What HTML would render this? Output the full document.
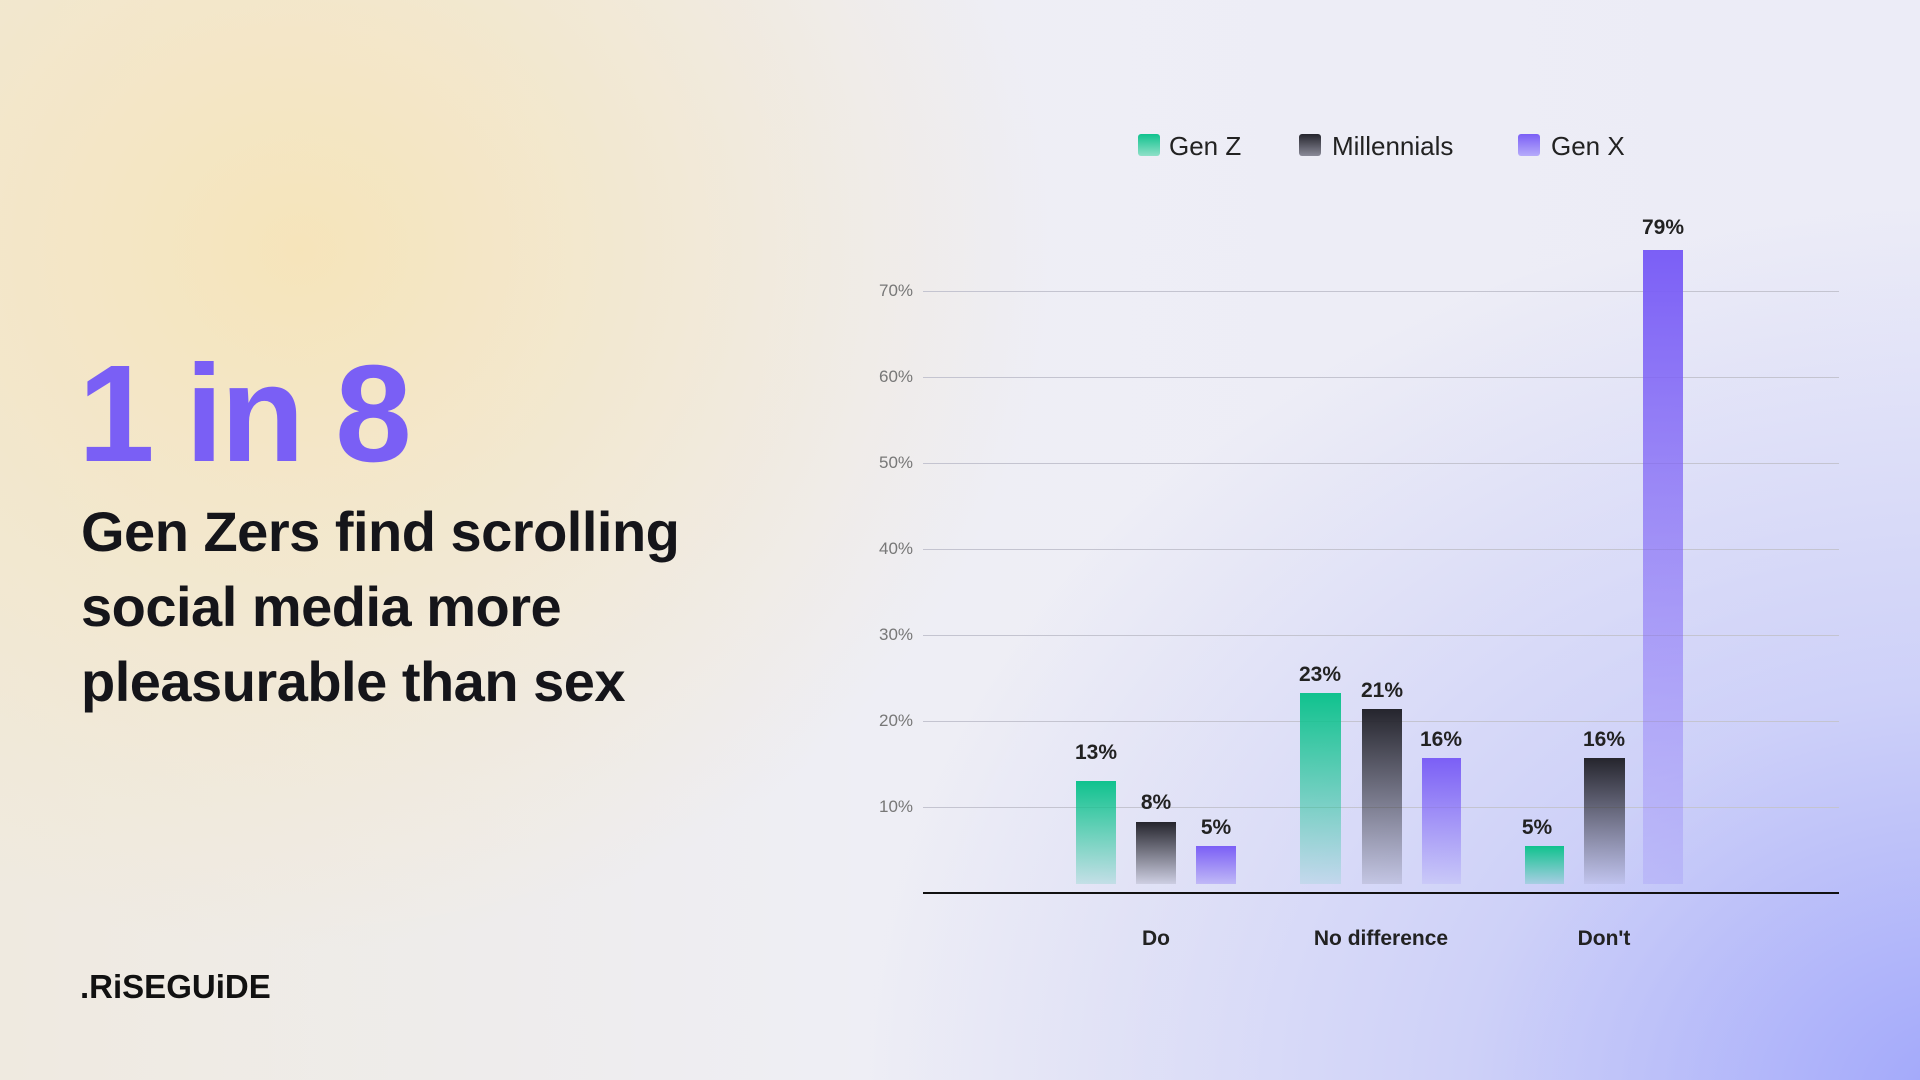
<!DOCTYPE html>
<html><head><meta charset="utf-8"><style>
html,body{margin:0;padding:0}
body{width:1920px;height:1080px;position:relative;overflow:hidden;font-family:"Liberation Sans",sans-serif;
background:
radial-gradient(ellipse 750px 700px at 300px 250px, rgba(246,228,184,0.95), rgba(246,228,184,0) 100%),
radial-gradient(ellipse 1100px 900px at 1960px 1100px, rgba(160,166,250,1), rgba(185,190,250,0.6) 45%, rgba(220,222,245,0) 100%),
linear-gradient(90deg,#efeae0 0%,#eeeef5 45%,#ececf7 100%);}
.a{position:absolute}
.big{left:78px;top:345px;font-size:138px;font-weight:bold;color:#7a5ff5;letter-spacing:-3px;line-height:1;word-spacing:-2px}
.head{left:81px;top:494px;font-size:56px;font-weight:bold;color:#15151a;line-height:75px;letter-spacing:-0.5px}
.logo{left:80px;top:968px;font-size:33px;font-weight:900;color:#111}
.tick{font-size:17px;color:#777;left:879px}
.grid{left:923px;width:916px;height:1px;background:#c4c4d0}
.bar{position:absolute;bottom:196px}
.val{position:absolute;font-size:21px;font-weight:bold;color:#222;width:80px;text-align:center}
.cat{position:absolute;top:927px;font-size:21px;font-weight:bold;color:#222;width:240px;text-align:center}
.leg{position:absolute;top:131px;font-size:26px;color:#222}
.sq{position:absolute;top:134px;width:22px;height:22px;border-radius:3px}
</style></head><body>
<div class="a big">1 in 8</div>
<div class="a head">Gen Zers find scrolling<br>social media more<br>pleasurable than sex</div>
<div class="a logo">.RiSEGUiDE</div>

<div class="sq" style="left:1138px;background:linear-gradient(#10c28e,#8fe0c8)"></div>
<div class="leg" style="left:1169px">Gen Z</div>
<div class="sq" style="left:1299px;background:linear-gradient(#25252d,#8a8a98)"></div>
<div class="leg" style="left:1332px">Millennials</div>
<div class="sq" style="left:1518px;background:linear-gradient(#7b5ff6,#b6abfa)"></div>
<div class="leg" style="left:1551px">Gen X</div>

<div class="a tick" style="top:281px">70%</div>
<div class="a tick" style="top:367px">60%</div>
<div class="a tick" style="top:453px">50%</div>
<div class="a tick" style="top:539px">40%</div>
<div class="a tick" style="top:625px">30%</div>
<div class="a tick" style="top:711px">20%</div>
<div class="a tick" style="top:797px">10%</div>
<div class="a grid" style="top:291px"></div>
<div class="a grid" style="top:377px"></div>
<div class="a grid" style="top:463px"></div>
<div class="a grid" style="top:549px"></div>
<div class="a grid" style="top:635px"></div>
<div class="a grid" style="top:721px"></div>
<div class="a grid" style="top:807px"></div>
<div class="a" style="left:923px;top:892px;width:916px;height:2px;background:#111"></div>

<div class="bar" style="left:1076px;width:40px;top:781px;bottom:196px;background:linear-gradient(#10c28e,rgba(16,194,142,0.15))"></div>
<div class="bar" style="left:1136px;width:40px;top:822px;bottom:196px;background:linear-gradient(#25252d,rgba(37,37,45,0.1))"></div>
<div class="bar" style="left:1196px;width:40px;top:846px;bottom:196px;background:linear-gradient(#7b5ff6,rgba(123,95,246,0.3))"></div>
<div class="bar" style="left:1300px;width:41px;top:693px;bottom:196px;background:linear-gradient(#10c28e,rgba(16,194,142,0.1))"></div>
<div class="bar" style="left:1362px;width:40px;top:709px;bottom:196px;background:linear-gradient(#25252d,rgba(37,37,45,0.1))"></div>
<div class="bar" style="left:1422px;width:39px;top:758px;bottom:196px;background:linear-gradient(#7b5ff6,rgba(123,95,246,0.1))"></div>
<div class="bar" style="left:1525px;width:39px;top:846px;bottom:196px;background:linear-gradient(#10c28e,rgba(16,194,142,0.2))"></div>
<div class="bar" style="left:1584px;width:41px;top:758px;bottom:196px;background:linear-gradient(#25252d,rgba(37,37,45,0.05))"></div>
<div class="bar" style="left:1643px;width:40px;top:250px;bottom:196px;background:linear-gradient(#7b5ff6,rgba(123,95,246,0.15))"></div>

<div class="val" style="left:1056px;top:741px">13%</div>
<div class="val" style="left:1116px;top:791px">8%</div>
<div class="val" style="left:1176px;top:816px">5%</div>
<div class="val" style="left:1280px;top:663px">23%</div>
<div class="val" style="left:1342px;top:679px">21%</div>
<div class="val" style="left:1401px;top:728px">16%</div>
<div class="val" style="left:1497px;top:816px">5%</div>
<div class="val" style="left:1564px;top:728px">16%</div>
<div class="val" style="left:1623px;top:216px">79%</div>

<div class="cat" style="left:1036px">Do</div>
<div class="cat" style="left:1261px">No difference</div>
<div class="cat" style="left:1484px">Don't</div>
</body></html>
